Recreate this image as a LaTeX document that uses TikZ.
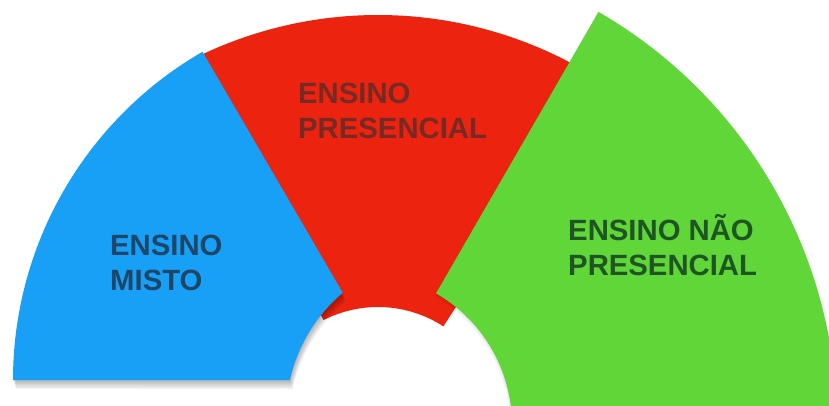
\documentclass[tikz,border=0pt]{standalone}
\usepackage{fontspec}
\setmainfont{Liberation Sans}
\definecolor{cblue}{HTML}{17A0F5}
\definecolor{cred}{HTML}{EC230F}
\definecolor{cgreen}{HTML}{60D638}
\definecolor{tblue}{HTML}{1E4669}
\definecolor{tred}{HTML}{772A24}
\definecolor{tgreen}{HTML}{1E5523}
\begin{document}
\begin{tikzpicture}[x=1pt,y=1pt,
  lbl/.style={font=\bfseries\fontsize{29.3}{34.5}\selectfont, align=left, anchor=base west, inner sep=0pt}]
\useasboundingbox (0,0) rectangle (829,405);
\clip (0,0) rectangle (829,405);
\fill[white] (0,0) rectangle (829,405);
\def\redpath{([shift={(57:412pt)}]378,-22) arc[start angle=57,end angle=117,radius=412pt] -- ([shift={(117:120pt)}]378,-22) arc[start angle=117,end angle=57,radius=120pt] -- cycle}
\def\bluepath{([shift={(120:379pt)}]392,25) arc[start angle=120,end angle=180,radius=379pt] -- ([shift={(167.4:160pt)}]446,-10) arc[start angle=167.4,end angle=130.2,radius=160pt] -- cycle}
\def\greenpath{([shift={(-15:477pt)}]360,-20) arc[start angle=-15,end angle=60,radius=477pt] -- ([shift={(60:152pt)}]360,-20) arc[start angle=60,end angle=-15,radius=152pt] -- cycle}
% red sector
\fill[cred] \redpath;
% blue shadow and sector
\foreach \k in {1,...,7}{\fill[black,opacity=0.045,shift={(0.4*\k,-1.3*\k)}] \bluepath;}
\fill[cblue] \bluepath;
% green shadow and sector
\foreach \k in {1,...,4}{\fill[black,opacity=0.025,shift={(-0.5*\k,-0.8*\k)}] \greenpath;}
\fill[cgreen] \greenpath;
% labels (anchor = baseline of the last line)
\node[lbl, text=tblue] (misto) at (110,115) {ENSINO\\MISTO};
\node[lbl, text=tred] (presencial) at (298,267) {ENSINO\\PRESENCIAL};
\node[lbl, text=tgreen] (nao) at (568,130) {ENSINO NÃO\\PRESENCIAL};
\end{tikzpicture}
\end{document}
